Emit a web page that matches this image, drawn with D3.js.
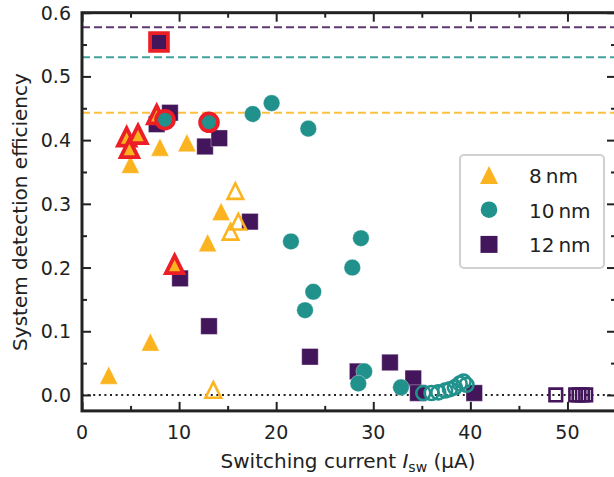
<!DOCTYPE html>
<html>
<head>
<meta charset="utf-8">
<script src="https://cdn.jsdelivr.net/npm/d3@7"></script>
<style>
  html, body { margin: 0; padding: 0; background: #fff; }
  svg { display: block; }
  text { font-family: "DejaVu Sans", sans-serif; fill: #222; }
</style>
</head>
<body>
<svg id="chart" width="614" height="477"></svg>
<script>
// ---- data: [switching current (µA), system detection efficiency] ----
// 8 nm devices (triangles)
const nm8Filled = [[2.75, 0.031], [7.04, 0.083], [4.98, 0.362], [8.03, 0.389], [10.8, 0.396],
                   [12.94, 0.239], [14.32, 0.288]];
const nm8Open   = [[13.52, 0.008], [15.79, 0.320], [16.1, 0.272], [15.3, 0.256]];
const nm8Marked = [[4.6, 0.405], [5.77, 0.409], [4.88, 0.387], [7.69, 0.440], [9.54, 0.205]];
// 10 nm devices (circles)
const nm10Filled = [[17.58, 0.441], [19.53, 0.458], [23.31, 0.418], [21.52, 0.241], [28.73, 0.246],
                    [27.84, 0.200], [23.82, 0.162], [22.97, 0.133], [29.07, 0.037], [28.46, 0.018],
                    [32.85, 0.012]];
const nm10Open   = [[35.15, 0.003], [36.0, 0.003], [36.7, 0.004], [37.4, 0.007], [37.9, 0.009],
                    [38.4, 0.012], [38.9, 0.018], [39.3, 0.021], [39.6, 0.016]];
const nm10Marked = [[8.55, 0.432], [13.08, 0.428]];
// 12 nm devices (squares)
const nm12Filled = [[9.06, 0.443], [7.69, 0.425], [12.67, 0.390], [14.14, 0.403], [17.3, 0.272],
                    [10.1, 0.183], [13.08, 0.108], [23.48, 0.060], [28.39, 0.037], [31.72, 0.051],
                    [34.12, 0.026], [34.6, 0.003], [40.4, 0.003]];
const nm12Open   = [[48.8, 0.0], [50.85, 0.0], [51.19, 0.0], [51.54, 0.0], [51.88, 0.0]];
const nm12Marked = [[7.93, 0.554]];
// reference efficiency levels per thickness
const refLevels = [{ series: "8 nm", value: 0.443 }, { series: "10 nm", value: 0.530 },
                   { series: "12 nm", value: 0.577 }];
const legendLabels = ["8\u2009nm", "10\u2009nm", "12\u2009nm"];
const xTicks = [0, 10, 20, 30, 40, 50];
const yTicks = [0.0, 0.1, 0.2, 0.3, 0.4, 0.5, 0.6];

// ---- styling ----
const colors = { "8 nm": "#fbb41f", "10 nm": "#21918c", "12 nm": "#43155a" };
const highlight = "#ec1f26";
const ink = "#222";

const svg = d3.select("#chart");
const x = d3.scaleLinear().domain([0, 55]).range([82, 616]);
const y = d3.scaleLinear().domain([-0.025, 0.6]).range([410.9, 12.7]);

// marker path generators (centred on their bounding box)
const triPath = a => `M0,${-a}L${a},${a}L${-a},${a}Z`;
const sqPath = h => `M${-h},${-h}H${h}V${h}H${-h}Z`;
const circPath = r => `M${r},0A${r},${r} 0 1,1 ${-r},0A${r},${r} 0 1,1 ${r},0Z`;

// reference lines
svg.append("g").selectAll("line").data(refLevels).join("line")
  .attr("x1", x(0)).attr("x2", x(55))
  .attr("y1", d => y(d.value)).attr("y2", d => y(d.value))
  .attr("stroke", d => colors[d.series]).attr("stroke-opacity", 0.85)
  .attr("stroke-width", 2).attr("stroke-dasharray", "8,4");

// zero-efficiency dotted line
svg.append("line")
  .attr("x1", x(0)).attr("x2", x(55)).attr("y1", y(0)).attr("y2", y(0))
  .attr("stroke", ink).attr("stroke-width", 2).attr("stroke-dasharray", "2,3.6");

const marks = svg.append("g");
function drawSet(data, pathFn, style) {
  marks.append("g").selectAll("path").data(data).join("path")
    .attr("transform", d => `translate(${x(d[0])},${y(d[1])})`)
    .attr("d", pathFn)
    .each(function () { style(d3.select(this)); });
}
const filledStyle = c => s => s.attr("fill", c).attr("stroke", "#fff").attr("stroke-opacity", 0.5).attr("stroke-width", 0.7);
const openStyle = c => s => s.attr("fill", "none").attr("stroke", c).attr("stroke-width", 2.6);
const markedStyle = c => s => s.attr("fill", c).attr("stroke", highlight).attr("stroke-width", 3.8)
  .attr("stroke-linejoin", "miter");

// 12 nm squares
drawSet(nm12Filled, () => sqPath(8.25), filledStyle(colors["12 nm"]));
drawSet(nm12Open, () => sqPath(6.3), openStyle(colors["12 nm"]));
drawSet(nm12Marked, () => sqPath(8.9), markedStyle(colors["12 nm"]));
// 8 nm triangles
drawSet(nm8Filled, () => triPath(9), filledStyle(colors["8 nm"]));
drawSet(nm8Open, () => triPath(7.8), openStyle(colors["8 nm"]));
drawSet(nm8Marked, () => triPath(8.7), markedStyle(colors["8 nm"]));
// 10 nm circles
drawSet(nm10Filled, () => circPath(8.3), filledStyle(colors["10 nm"]));
drawSet(nm10Open, () => circPath(7), openStyle(colors["10 nm"]));
drawSet(nm10Marked, () => circPath(8.9), markedStyle(colors["10 nm"]));

// ---- axes: ticks inward on all four sides ----
const xMinor = d3.range(5, 55, 10);
const yMinor = d3.range(0.05, 0.6, 0.1);
function inwardAxis(axisFn, scale, ticks, size, transform) {
  const g = svg.append("g").attr("transform", transform)
    .call(axisFn(scale).tickValues(ticks).tickSize(size).tickFormat(""));
  g.select(".domain").remove();
  g.selectAll("line").attr("stroke", ink).attr("stroke-width", 2);
  return g;
}
inwardAxis(d3.axisTop, x, xTicks, 9, `translate(0,${y(-0.025)})`);
inwardAxis(d3.axisTop, x, xMinor, 5, `translate(0,${y(-0.025)})`);
inwardAxis(d3.axisBottom, x, xTicks, 9, `translate(0,${y(0.6)})`);
inwardAxis(d3.axisBottom, x, xMinor, 5, `translate(0,${y(0.6)})`);
inwardAxis(d3.axisRight, y, yTicks, 9, `translate(${x(0)},0)`);
inwardAxis(d3.axisRight, y, yMinor, 5, `translate(${x(0)},0)`);
inwardAxis(d3.axisLeft, y, yTicks, 9, `translate(${x(55)},0)`);
inwardAxis(d3.axisLeft, y, yMinor, 5, `translate(${x(55)},0)`);

// frame
svg.append("rect")
  .attr("x", x(0)).attr("y", y(0.6))
  .attr("width", x(55) - x(0)).attr("height", y(-0.025) - y(0.6))
  .attr("fill", "none").attr("stroke", ink).attr("stroke-width", 3);

// tick labels
svg.append("g").selectAll("text").data(xTicks).join("text")
  .attr("x", d => x(d)).attr("y", 439).attr("text-anchor", "middle")
  .attr("font-size", 19).text(d => d3.format("d")(d));
svg.append("g").selectAll("text").data(yTicks).join("text")
  .attr("x", 71).attr("y", d => y(d) + 7).attr("text-anchor", "end")
  .attr("font-size", 19).text(d => d3.format(".1f")(d));

// axis titles
const xt = svg.append("text").attr("x", 348).attr("y", 468).attr("text-anchor", "middle")
  .attr("font-size", 20);
xt.append("tspan").text("Switching current ");
xt.append("tspan").attr("font-style", "italic").text("I");
xt.append("tspan").attr("font-size", 14).attr("dy", 4).text("sw");
xt.append("tspan").attr("dy", -4).text(" (\u00b5A)");

svg.append("text")
  .attr("transform", "translate(27,212) rotate(-90)")
  .attr("text-anchor", "middle").attr("font-size", 20)
  .text("System detection efficiency");

// legend
const legend = svg.append("g");
legend.append("rect")
  .attr("x", 460).attr("y", 155).attr("width", 144).attr("height", 113)
  .attr("rx", 4).attr("fill", "#fff").attr("fill-opacity", 0.9)
  .attr("stroke", "#d0d0d0").attr("stroke-width", 2);
const legendShapes = [triPath(9), circPath(8.3), sqPath(8.5)];
const legendKeys = ["8 nm", "10 nm", "12 nm"];
legend.selectAll("path").data(legendKeys).join("path")
  .attr("transform", (d, i) => `translate(489,${175 + i * 34.7})`)
  .attr("d", (d, i) => legendShapes[i])
  .attr("fill", d => colors[d]);
legend.selectAll("text").data(legendLabels).join("text")
  .attr("x", 529).attr("y", (d, i) => 183 + i * 34.7)
  .attr("font-size", 20).text(d => d);
</script>
</body>
</html>
